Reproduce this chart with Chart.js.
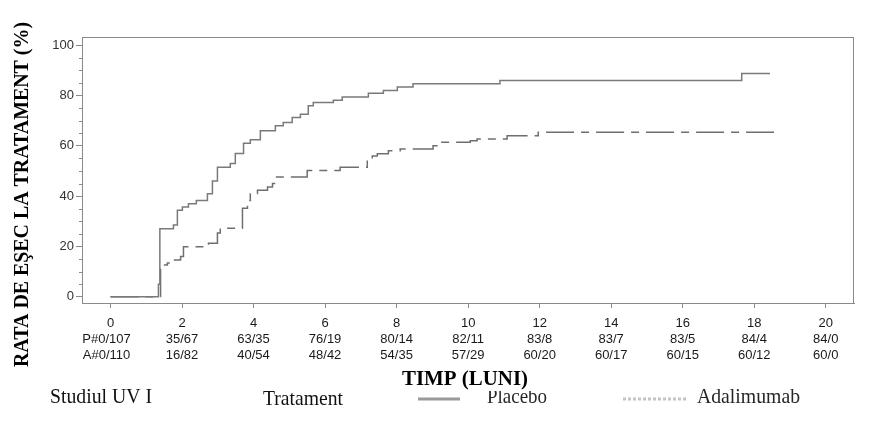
<!doctype html>
<html lang="ro">
<head>
  <meta charset="utf-8">
  <script src="https://cdn.jsdelivr.net/npm/chart.js@4/dist/chart.umd.min.js"></script>
  <style>
    html, body { margin: 0; padding: 0; background: #fff; }
    canvas { display: block; }
  </style>
</head>
<body>
<canvas id="km" width="888" height="427"></canvas>
<script>
  // timp (luni) si rata de esec
  const placeboT = [0, 1.34, 1.38, 1.76, 1.87, 2.01, 2.18, 2.40, 2.71, 2.85, 2.99, 3.35, 3.49, 3.72, 3.91, 4.19,
    4.61, 4.83, 5.08, 5.31, 5.53, 5.67, 6.23, 6.48, 7.21, 7.63, 8.02, 8.46, 10.89, 17.65, 18.44];
  const placeboV = [0, 5, 27, 28.5, 34.4, 35.7, 37, 38.3, 41, 46, 51.5, 53, 57, 61, 62.4, 66,
    68, 69.3, 71.3, 72.6, 76, 77.2, 78.1, 79.4, 80.9, 82, 83.4, 84.7, 86, 88.8, 88.8];

  const adaT = [0, 1.40, 1.59, 1.76, 1.96, 2.04, 2.74, 2.99, 3.07, 3.69, 3.83, 3.91, 4.11, 4.39, 4.53, 4.61,
    5.50, 6.42, 7.18, 7.32, 7.46, 7.77, 8.10, 9.02, 9.22, 10.06, 10.25, 11.09, 11.96, 18.66];
  const adaV = [0, 12.6, 13.4, 14.6, 16, 19.9, 21.3, 25.3, 27.2, 35.2, 38.3, 41, 42.3, 43.6, 45, 47.6,
    50.2, 51.5, 54.2, 56, 56.9, 58.1, 58.8, 60, 61.4, 62, 62.7, 64, 65.4, 65.4];

  const xTicks = [0, 2, 4, 6, 8, 10, 12, 14, 16, 18, 20];
  const yTicks = [0, 20, 40, 60, 80, 100];
  const riskPlacebo = ['P#0/107', '35/67', '63/35', '76/19', '80/14', '82/11', '83/8', '83/7', '83/5', '84/4', '84/0'];
  const riskAda = ['A#0/110', '16/82', '40/54', '48/42', '54/35', '57/29', '60/20', '60/17', '60/15', '60/12', '60/0'];

  const toPoints = (t, v) => t.map((x, i) => ({x: x, y: v[i]}));

  // text stretched/squeezed to a given width (the original is a bit condensed)
  function fitText(ctx, text, x, y, w) {
    const m = ctx.measureText(text).width;
    ctx.save();
    ctx.translate(x, y);
    ctx.scale(w / m, 1);
    ctx.textAlign = 'left';
    ctx.fillText(text, 0, 0);
    ctx.restore();
  }

  const extras = {
    id: 'extras',
    afterDraw(chart) {
      const ctx = chart.ctx;
      const a = chart.chartArea;
      const xs = chart.scales.x, ys = chart.scales.y;
      ctx.save();

      // rama
      ctx.strokeStyle = '#8a8a8a';
      ctx.lineWidth = 1;
      ctx.strokeRect(a.left + 0.5, a.top + 0.5, a.right - a.left - 1, a.bottom - a.top);

      // tick-uri minore pe axa y
      ctx.beginPath();
      for (let v = 5; v < 100; v += 5) {
        if (v % 20 === 0) continue;
        const y = Math.round(ys.getPixelForValue(v)) + 0.5;
        ctx.moveTo(a.left - 3, y);
        ctx.lineTo(a.left, y);
      }
      ctx.stroke();

      // pacienti la risc
      ctx.fillStyle = '#1a1a1a';
      ctx.font = '13px "Liberation Sans", Arial, sans-serif';
      ctx.textAlign = 'center';
      ctx.textBaseline = 'middle';
      xTicks.forEach((t, i) => {
        const x = xs.getPixelForValue(t);
        ctx.fillText(riskPlacebo[i], i === 0 ? x - 4 : x, 339);
        ctx.fillText(riskAda[i], i === 0 ? x - 4 : x, 355);
      });

      // titlu axa y
      ctx.fillStyle = '#000';
      ctx.textBaseline = 'alphabetic';
      ctx.font = 'bold 21px "Liberation Serif", "Times New Roman", serif';
      ctx.save();
      ctx.translate(28, 367);
      ctx.rotate(-Math.PI / 2);
      fitText(ctx, 'RATA DE EŞEC LA TRATAMENT (%)', 0, 0, 345);
      ctx.restore();

      // titlu axa x
      ctx.font = 'bold 22px "Liberation Serif", "Times New Roman", serif';
      fitText(ctx, 'TIMP (LUNI)', 402, 385, 126);

      // legenda de jos
      ctx.font = '21px "Liberation Serif", "Times New Roman", serif';
      ctx.fillStyle = '#111';
      fitText(ctx, 'Studiul UV I', 50, 403, 102);
      fitText(ctx, 'Tratament', 263, 405, 80);

      ctx.strokeStyle = '#9a9a9a';
      ctx.lineWidth = 3;
      ctx.beginPath();
      ctx.moveTo(418, 399);
      ctx.lineTo(460, 399);
      ctx.stroke();

      ctx.save();
      ctx.beginPath();
      ctx.rect(480, 391, 80, 20);
      ctx.clip();
      ctx.fillStyle = '#262626';
      fitText(ctx, 'Placebo', 487, 403, 60);
      ctx.restore();

      ctx.strokeStyle = '#c4c4c4';
      ctx.setLineDash([3, 2]);
      ctx.beginPath();
      ctx.moveTo(623, 399);
      ctx.lineTo(686, 399);
      ctx.stroke();
      ctx.setLineDash([]);

      ctx.fillStyle = '#262626';
      fitText(ctx, 'Adalimumab', 697, 403, 103);

      ctx.restore();
    }
  };

  new Chart(document.getElementById('km'), {
    type: 'line',
    data: {
      datasets: [
        {
          label: 'Placebo',
          data: toPoints(placeboT, placeboV),
          borderColor: '#7a7a7a',
          borderWidth: 1.5,
          stepped: true,
          pointRadius: 0
        },
        {
          label: 'Adalimumab',
          data: toPoints(adaT, adaV),
          borderColor: '#6f6f6f',
          borderWidth: 1.5,
          borderDash: [28, 7, 8, 7],
          stepped: true,
          pointRadius: 0
        }
      ]
    },
    options: {
      responsive: false,
      animation: false,
      devicePixelRatio: 1,
      layout: {padding: {top: 37, right: 34, left: 0, bottom: 0}},
      plugins: {legend: {display: false}, tooltip: {enabled: false}},
      scales: {
        x: {
          type: 'linear',
          min: -0.797,
          max: 20.79,
          afterBuildTicks: axis => { axis.ticks = xTicks.map(v => ({value: v})); },
          afterFit: s => { s.height = 124; },
          grid: {drawOnChartArea: false, tickLength: 5, color: '#8a8a8a'},
          border: {color: '#8a8a8a'},
          ticks: {
            color: '#1a1a1a',
            font: {family: '"Liberation Sans", Arial, sans-serif', size: 13},
            padding: 8,
            maxRotation: 0,
            autoSkip: false
          }
        },
        y: {
          min: -2.5,
          max: 103.3,
          afterBuildTicks: axis => { axis.ticks = yTicks.map(v => ({value: v})); },
          afterFit: s => { s.width = 82; },
          grid: {drawOnChartArea: false, tickLength: 6, color: '#8a8a8a'},
          border: {color: '#8a8a8a'},
          ticks: {
            color: '#333',
            font: {family: '"Liberation Sans", Arial, sans-serif', size: 13},
            padding: 2
          }
        }
      }
    },
    plugins: [extras]
  });
</script>
</body>
</html>
